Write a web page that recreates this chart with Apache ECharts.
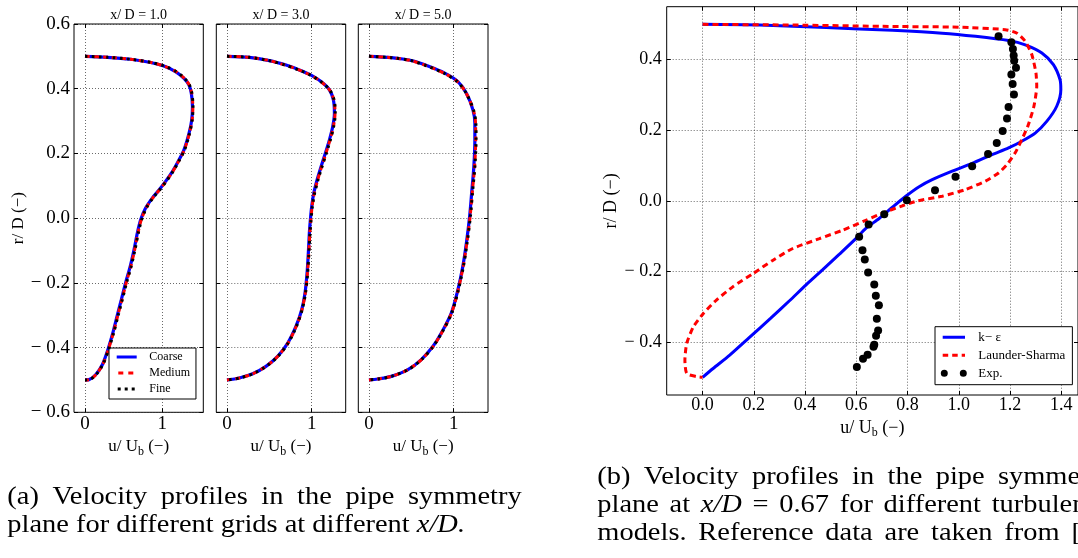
<!DOCTYPE html>
<html><head><meta charset="utf-8">
<script src="https://cdn.jsdelivr.net/npm/echarts@6/dist/echarts.min.js"></script>
<style>html,body{margin:0;padding:0;background:#fff}#c{width:1078px;height:558px}</style>
</head><body><div id="c"></div>
<script>
// ---------------- data ----------------
const panelTitles = ['x/ D = 1.0', 'x/ D = 3.0', 'x/ D = 5.0'];
const gridNames = ['Coarse', 'Medium', 'Fine'];
const modelNames = ['k\u2212 \u03b5', 'Launder-Sharma', 'Exp.'];

const xTicksA = [0, 1];
const yTicksA = [-0.6, -0.4, -0.2, 0, 0.2, 0.4, 0.6];
const xTicksB = [0, 0.2, 0.4, 0.6, 0.8, 1.0, 1.2, 1.4];
const yTicksB = [-0.4, -0.2, 0, 0.2, 0.4];

// x/D = 1.0
const r1 = [0.5, 0.497, 0.491, 0.481, 0.470, 0.453, 0.432, 0.411, 0.386, 0.345, 0.303, 0.262, 0.211, 0.180, 0.144, 0.113, 0.087, 0.062, 0.031, -0.005, -0.046, -0.098, -0.149, -0.2, -0.252, -0.303, -0.355, -0.406, -0.453, -0.484, -0.499, -0.5];
const coarse1 = [0, 0.29, 0.59, 0.85, 1.02, 1.17, 1.28, 1.345, 1.375, 1.39, 1.38, 1.345, 1.28, 1.215, 1.13, 1.04, 0.957, 0.87, 0.784, 0.72, 0.677, 0.634, 0.585, 0.525, 0.47, 0.415, 0.36, 0.297, 0.224, 0.138, 0.052, 0];
const medium1 = [0, 0.29, 0.59, 0.855, 1.025, 1.175, 1.285, 1.35, 1.38, 1.395, 1.385, 1.35, 1.285, 1.22, 1.135, 1.045, 0.962, 0.875, 0.79, 0.728, 0.685, 0.642, 0.593, 0.533, 0.478, 0.422, 0.366, 0.302, 0.228, 0.141, 0.054, 0];
const fine1 = [0, 0.292, 0.592, 0.858, 1.028, 1.178, 1.288, 1.352, 1.382, 1.397, 1.386, 1.352, 1.288, 1.222, 1.138, 1.048, 0.965, 0.878, 0.793, 0.732, 0.69, 0.646, 0.597, 0.537, 0.482, 0.426, 0.37, 0.305, 0.23, 0.143, 0.055, 0];

// x/D = 3.0
const r2 = [0.5, 0.497, 0.487, 0.473, 0.458, 0.442, 0.422, 0.396, 0.365, 0.324, 0.283, 0.242, 0.2, 0.159, 0.118, 0.077, 0.036, -0.005, -0.046, -0.108, -0.17, -0.231, -0.283, -0.334, -0.386, -0.427, -0.458, -0.481, -0.494, -0.5];
const coarse2 = [0, 0.264, 0.5, 0.697, 0.854, 0.992, 1.11, 1.21, 1.256, 1.268, 1.248, 1.209, 1.16, 1.11, 1.063, 1.024, 1.0, 0.984, 0.972, 0.96, 0.945, 0.921, 0.882, 0.815, 0.717, 0.598, 0.46, 0.303, 0.146, 0];
const medium2 = [0, 0.262, 0.495, 0.69, 0.848, 0.988, 1.108, 1.212, 1.262, 1.275, 1.256, 1.216, 1.168, 1.117, 1.07, 1.03, 1.005, 0.99, 0.978, 0.965, 0.95, 0.925, 0.885, 0.818, 0.72, 0.6, 0.462, 0.305, 0.147, 0];
const fine2 = [0, 0.262, 0.494, 0.688, 0.846, 0.986, 1.107, 1.213, 1.264, 1.278, 1.259, 1.22, 1.172, 1.121, 1.074, 1.034, 1.008, 0.992, 0.98, 0.967, 0.952, 0.927, 0.887, 0.82, 0.722, 0.602, 0.463, 0.306, 0.148, 0];

// x/D = 5.0
const r3 = [0.5, 0.496, 0.487, 0.47, 0.448, 0.422, 0.386, 0.334, 0.293, 0.242, 0.159, 0.087, 0.005, -0.077, -0.149, -0.221, -0.293, -0.355, -0.396, -0.437, -0.468, -0.489, -0.497, -0.5];
const coarse3 = [0, 0.264, 0.5, 0.697, 0.894, 1.05, 1.15, 1.228, 1.25, 1.25, 1.238, 1.215, 1.188, 1.15, 1.108, 1.05, 0.972, 0.854, 0.756, 0.618, 0.46, 0.264, 0.106, 0];
const medium3 = [0, 0.262, 0.495, 0.69, 0.886, 1.044, 1.148, 1.232, 1.258, 1.26, 1.247, 1.222, 1.194, 1.155, 1.112, 1.054, 0.975, 0.857, 0.758, 0.62, 0.462, 0.265, 0.107, 0];
const fine3 = [0, 0.262, 0.494, 0.688, 0.884, 1.042, 1.148, 1.234, 1.262, 1.264, 1.25, 1.225, 1.197, 1.158, 1.115, 1.056, 0.977, 0.858, 0.759, 0.621, 0.463, 0.266, 0.107, 0];

// x/D = 0.67, turbulence models
const kEpsU = [0, 0.223, 0.482, 0.741, 0.935, 1.065, 1.194, 1.259, 1.324, 1.369, 1.395, 1.398, 1.382, 1.343, 1.298, 1.246, 1.194, 1.130, 1.052, 0.974, 0.896, 0.845, 0.793, 0.741, 0.689, 0.637, 0.598, 0.534, 0.469, 0.404, 0.339, 0.265, 0.184, 0.106, 0.041, 0];
const kEpsR = [0.5, 0.498, 0.491, 0.483, 0.475, 0.466, 0.454, 0.442, 0.419, 0.386, 0.343, 0.315, 0.268, 0.225, 0.192, 0.169, 0.15, 0.131, 0.106, 0.084, 0.060, 0.040, 0.013, -0.018, -0.05, -0.078, -0.107, -0.151, -0.195, -0.238, -0.283, -0.333, -0.386, -0.437, -0.475, -0.5];
const lsU = [0, 0.352, 0.741, 1.0, 1.181, 1.227, 1.259, 1.285, 1.301, 1.304, 1.293, 1.269, 1.246, 1.220, 1.188, 1.155, 1.104, 1.026, 0.935, 0.84, 0.78, 0.715, 0.637, 0.547, 0.456, 0.352, 0.275, 0.197, 0.119, 0.054, 0.003, -0.036, -0.062, -0.069, -0.062, -0.023, 0];
const lsR = [0.5, 0.498, 0.494, 0.492, 0.485, 0.475, 0.452, 0.414, 0.362, 0.325, 0.268, 0.211, 0.174, 0.136, 0.103, 0.079, 0.056, 0.032, 0.013, 0.0, -0.014, -0.031, -0.055, -0.083, -0.107, -0.135, -0.168, -0.206, -0.243, -0.281, -0.319, -0.357, -0.404, -0.451, -0.489, -0.498, -0.5];
const expU = [1.155, 1.205, 1.211, 1.214, 1.216, 1.223, 1.205, 1.210, 1.215, 1.194, 1.188, 1.171, 1.148, 1.114, 1.052, 0.987, 0.907, 0.797, 0.709, 0.648, 0.611, 0.624, 0.633, 0.646, 0.670, 0.676, 0.688, 0.680, 0.685, 0.677, 0.670, 0.667, 0.644, 0.626, 0.602];
const expR = [0.466, 0.449, 0.430, 0.412, 0.397, 0.377, 0.358, 0.331, 0.301, 0.266, 0.233, 0.198, 0.164, 0.133, 0.098, 0.068, 0.030, 0.002, -0.038, -0.067, -0.102, -0.140, -0.166, -0.203, -0.237, -0.269, -0.296, -0.334, -0.367, -0.382, -0.408, -0.413, -0.436, -0.447, -0.471];

// caption text (lines of words; * marks italic)
const captionA = [
  ['(a)', 'Velocity', 'profiles', 'in', 'the', 'pipe', 'symmetry'],
  ['plane', 'for', 'different', 'grids', 'at', 'different', '*x/D.']
];
const captionB = [
  ['(b)', 'Velocity', 'profiles', 'in', 'the', 'pipe', 'symmetry'],
  ['plane', 'at', '*x/D', '=', '0.67', 'for', 'different', 'turbulence'],
  ['models.', 'Reference', 'data', 'are', 'taken', 'from', '[3].']
];

// ---------------- chart ----------------
const FONT = 'Liberation Serif';
const BLUE = '#0000ff', RED = '#ff0000', BLACK = '#000000';
const pairs = (us, rs) => us.map((u, i) => [u, rs[i]]);
const fmt = (v, d) => { const s = Math.abs(v).toFixed(d); return v < -1e-9 ? '\u2212 ' + s : s; };

const gridsA = [
  {left: 74, top: 24, width: 129.3, height: 388.3},
  {left: 216.3, top: 24, width: 129.4, height: 388.3},
  {left: 358.3, top: 24, width: 129.7, height: 388.3}
];
const gridB = {left: 666.7, top: 6.7, width: 413.3, height: 388.3};
const xRangeA = [[-0.142, 1.53], [-0.126, 1.401], [-0.126, 1.405]];
const xRangeB = [-0.14, 1.465];
const yRangeA = [-0.6, 0.6];
const yRangeB = [-0.55, 0.55];

const gridLine = {show: true, lineStyle: {color: '#444', type: [1, 2], width: 0.8}};
const tickStyle = {color: '#000', width: 1};
const noLine = {show: false, onZero: false};
const nameRich = {
  sub: {fontFamily: FONT, fontSize: 12, color: '#000', verticalAlign: 'bottom', padding: [10, 0, 0, 0]}
};

const grids = gridsA.concat([gridB]).map(g => Object.assign({show: true, borderColor: '#000', borderWidth: 1, backgroundColor: 'transparent', containLabel: false}, g));

const xAxes = [], yAxes = [];
for (let i = 0; i < 4; i++) {
  const isB = i === 3;
  const ticks = isB ? xTicksB : xTicksA;
  const rng = isB ? xRangeB : xRangeA[i];
  xAxes.push({
    type: 'value', gridIndex: i, min: rng[0], max: rng[1], position: 'bottom',
    axisLine: noLine,
    axisTick: {show: true, inside: true, length: 4, customValues: ticks, lineStyle: tickStyle},
    axisLabel: {customValues: ticks, formatter: v => fmt(v, isB ? 1 : 0), fontFamily: FONT, fontSize: isB ? 18 : 19, color: '#000', margin: isB ? 1 : 2},
    splitLine: gridLine,
    name: 'u/ U{sub|b} (\u2212)', nameLocation: 'middle', nameGap: isB ? 9 : 12,
    nameTextStyle: {fontFamily: FONT, fontSize: isB ? 18 : 17, color: '#000', rich: nameRich}
  });
  const yt = isB ? yTicksB : yTicksA;
  const yr = isB ? yRangeB : yRangeA;
  const showLab = (i === 0 || isB);
  yAxes.push({
    type: 'value', gridIndex: i, min: yr[0], max: yr[1], position: 'left',
    axisLine: noLine,
    axisTick: {show: true, inside: true, length: 4, customValues: yt, lineStyle: tickStyle},
    axisLabel: {show: showLab, customValues: yt, formatter: v => fmt(v, 1), fontFamily: FONT, fontSize: isB ? 18 : 19, color: '#000', margin: isB ? 5 : 4},
    splitLine: gridLine,
    name: showLab ? 'r/ D (\u2212)' : '', nameLocation: 'middle', nameGap: isB ? 37 : 38,
    nameTextStyle: {fontFamily: FONT, fontSize: isB ? 18 : 17, color: '#000'}
  });
}
for (let i = 0; i < 4; i++) {
  const isB = i === 3;
  const rng = isB ? xRangeB : xRangeA[i];
  xAxes.push({
    type: 'value', gridIndex: i, min: rng[0], max: rng[1], position: 'top',
    axisLine: noLine, axisLabel: {show: false}, splitLine: {show: false},
    axisTick: {show: true, inside: true, length: 4, customValues: isB ? xTicksB : xTicksA, lineStyle: tickStyle}
  });
  const yr = isB ? yRangeB : yRangeA;
  yAxes.push({
    type: 'value', gridIndex: i, min: yr[0], max: yr[1], position: 'right',
    axisLine: noLine, axisLabel: {show: false}, splitLine: {show: false},
    axisTick: {show: true, inside: true, length: 4, customValues: isB ? yTicksB : yTicksA, lineStyle: tickStyle}
  });
}

const lineBase = {type: 'line', showSymbol: false, symbol: 'none', smooth: 0.3, clip: true, silent: true, animation: false};
const panelData = [
  [r1, coarse1, medium1, fine1],
  [r2, coarse2, medium2, fine2],
  [r3, coarse3, medium3, fine3]
];
const series = [];
panelData.forEach((p, i) => {
  series.push(Object.assign({}, lineBase, {name: gridNames[0], xAxisIndex: i, yAxisIndex: i, z: 2, data: pairs(p[1], p[0]), lineStyle: {color: BLUE, width: 3.2}, itemStyle: {color: BLUE}}));
  series.push(Object.assign({}, lineBase, {name: gridNames[1], xAxisIndex: i, yAxisIndex: i, z: 3, data: pairs(p[2], p[0]), lineStyle: {color: RED, width: 3, type: [5, 4], cap: 'butt'}, itemStyle: {color: RED}}));
  series.push(Object.assign({}, lineBase, {name: gridNames[2], xAxisIndex: i, yAxisIndex: i, z: 4, data: pairs(p[3], p[0]), lineStyle: {color: BLACK, width: 3, type: [2.5, 4.5], cap: 'butt'}, itemStyle: {color: BLACK}}));
});
series.push(Object.assign({}, lineBase, {name: modelNames[0], xAxisIndex: 3, yAxisIndex: 3, z: 2, smooth: 0.25, data: pairs(kEpsU, kEpsR), lineStyle: {color: BLUE, width: 3}, itemStyle: {color: BLUE}}));
series.push(Object.assign({}, lineBase, {name: modelNames[1], xAxisIndex: 3, yAxisIndex: 3, z: 3, smooth: 0.2, data: pairs(lsU, lsR), lineStyle: {color: RED, width: 3, type: [6, 4], cap: 'butt'}, itemStyle: {color: RED}}));
series.push({type: 'scatter', name: modelNames[2], xAxisIndex: 3, yAxisIndex: 3, z: 5, silent: true, animation: false, symbol: 'circle', symbolSize: 8, data: pairs(expU, expR), itemStyle: {color: BLACK, opacity: 1}});

// legend icons
const ICON_SOLID_A = 'path://M0,0L20,0L0,0Z M0,0h20v3h-20z';
const ICON_DASH_A = 'path://M0,0L20,0L0,0Z M1.6,0h5v3h-5z M11.6,0h5v3h-5z';
const ICON_DOT_A = 'path://M0,0L20,0L0,0Z M1,0h3v3h-3z M8,0h3v3h-3z M15,0h3v3h-3z';
const ICON_SOLID_B = 'path://M0,0L26,0L0,0Z M1.9,0h22.3v3h-22.3z';
const ICON_DASH_B = 'path://M0,0L26,0L0,0Z M1.9,0h5.5v3h-5.5z M11.4,0h5.5v3h-5.5z M20.9,0h3.3v3h-3.3z';
const ICON_DOTS_B = 'path://M0,3.5a3.5,3.5 0 1,0 7,0a3.5,3.5 0 1,0 -7,0Z M19,3.5a3.5,3.5 0 1,0 7,0a3.5,3.5 0 1,0 -7,0Z';

const legendA = {
  data: [
    {name: gridNames[0], icon: ICON_SOLID_A, itemStyle: {color: BLUE, borderWidth: 0}},
    {name: gridNames[1], icon: ICON_DASH_A, itemStyle: {color: RED, borderWidth: 0}},
    {name: gridNames[2], icon: ICON_DOT_A, itemStyle: {color: BLACK, borderWidth: 0}}
  ],
  left: 109, top: 348, orient: 'vertical', itemWidth: 20, itemHeight: 14, itemGap: 4,
  padding: [3, 6, 4, 7.7], borderColor: '#000', borderWidth: 1, backgroundColor: '#fff',
  selectedMode: false, symbolKeepAspect: true,
  textStyle: {fontFamily: FONT, fontSize: 12, color: '#000', padding: [0, 0, 0, 7.6]}
};
const legendB = {
  data: [
    {name: modelNames[0], icon: ICON_SOLID_B, itemStyle: {color: BLUE, borderWidth: 0}},
    {name: modelNames[1], icon: ICON_DASH_B, itemStyle: {color: RED, borderWidth: 0}},
    {name: modelNames[2], icon: ICON_DOTS_B, itemStyle: {color: BLACK, borderWidth: 0}}
  ],
  left: 935, top: 326.7, orient: 'vertical', itemWidth: 26, itemHeight: 14, itemGap: 5,
  padding: [4, 7, 5, 5.8], borderColor: '#000', borderWidth: 1, backgroundColor: '#fff',
  selectedMode: false, symbolKeepAspect: true,
  textStyle: {fontFamily: FONT, fontSize: 13, color: '#000', padding: [0, 0, 0, 6.5]}
};

// ---- text graphics ----
const graphics = [];
const centersA = gridsA.map(g => g.left + g.width / 2);
panelTitles.forEach((t, i) => graphics.push({type: 'text', x: centersA[i], y: 15, silent: true,
  style: {text: t, fontFamily: FONT, fontSize: 14, fill: '#000', align: 'center', verticalAlign: 'middle'}}));

const CAP = 26;
const mctx = document.createElement('canvas').getContext('2d');
const measure = (txt, italic) => { mctx.font = (italic ? 'italic ' : '') + CAP + 'px "' + FONT + '"'; return mctx.measureText(txt).width; };
const tokInfo = w => { const it = w[0] === '*'; const t = it ? w.slice(1) : w; return {t, it, w: measure(t, it)}; };
const lastA = captionA[1].map(tokInfo);
const spaceW = measure(' ', false);
const natA = lastA.reduce((s, k) => s + k.w, 0) + spaceW * (lastA.length - 1);
const SX = 457.7 / natA;
function placeLine(words, left, right, y, justify) {
  const toks = words.map(tokInfo);
  const total = toks.reduce((s, k) => s + k.w * SX, 0);
  const gap = justify ? (right - left - total) / (toks.length - 1) : spaceW * SX;
  let x = left;
  toks.forEach(k => {
    graphics.push({type: 'text', x: x, y: y, scaleX: SX, silent: true,
      style: {text: k.t, x: 0, y: 0, fontFamily: FONT, fontSize: CAP, fontStyle: k.it ? 'italic' : 'normal', fill: '#000', align: 'left', verticalAlign: 'middle'}});
    x += k.w * SX + gap;
  });
}
placeLine(captionA[0], 7.3, 521.7, 497, true);
placeLine(captionA[1], 7.3, 465, 525.3, false);
placeLine(captionB[0], 597.3, 1111.7, 477, true);
placeLine(captionB[1], 597.3, 1111.7, 505, true);
placeLine(captionB[2], 597.3, 1111.7, 533, true);

const chart = echarts.init(document.getElementById('c'), null, {renderer: 'canvas'});
chart.setOption({
  backgroundColor: '#fff',
  animation: false,
  grid: grids,
  xAxis: xAxes,
  yAxis: yAxes,
  legend: [legendA, legendB],
  series: series,
  graphic: graphics
});
</script></body></html>
